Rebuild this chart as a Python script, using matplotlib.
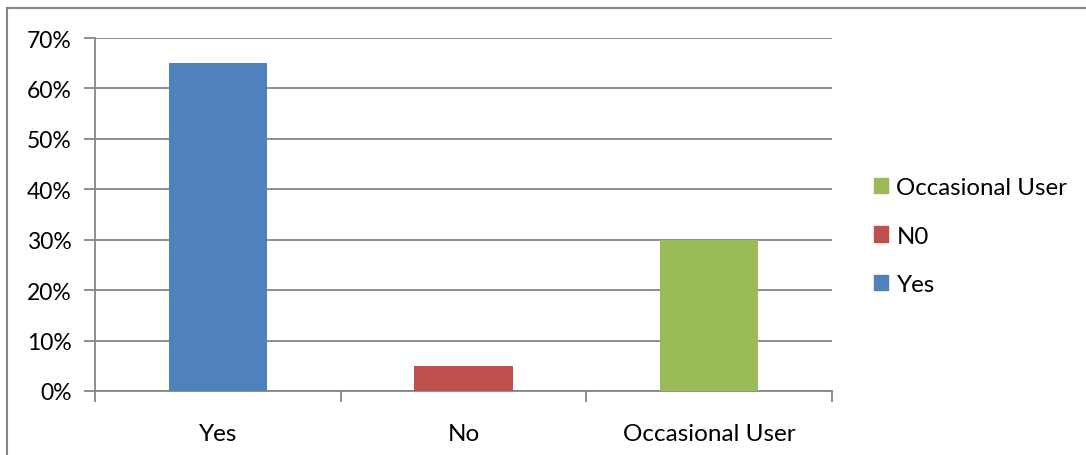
import matplotlib.pyplot as plt
from matplotlib.patches import Rectangle, Patch

categories = ["Yes", "No", "Occasional User"]
values = [0.65, 0.05, 0.30]
colors = ["#4f81bd", "#c0504d", "#9bbb59"]
legend_labels = ["Occasional User", "N0", "Yes"]
legend_colors = ["#9bbb59", "#c0504d", "#4f81bd"]
yticks = [0, 0.1, 0.2, 0.3, 0.4, 0.5, 0.6, 0.7]

plt.rcParams['font.family'] = ['Lato', 'DejaVu Sans']
grey = "#868686"

fig = plt.figure(figsize=(10.86, 4.56), dpi=100)
# outer chart border
fig.patches.append(Rectangle((7 / 1086, -0.01), 1.0, 1 - 9 / 456 + 0.01,
                             transform=fig.transFigure, fill=False,
                             edgecolor=grey, linewidth=1.5))

ax = fig.add_axes([95 / 1086, 1 - 392 / 456, (832 - 95) / 1086, (392 - 39) / 456])
x = range(len(categories))
ax.bar(x, values, width=0.4, color=colors, zorder=3)

ax.set_xlim(-0.5, 2.5)
ax.set_ylim(0, 0.7)
ax.set_yticks(yticks)
ax.set_yticklabels([f"{int(round(t * 100))}%" for t in yticks])
ax.yaxis.grid(True, color=grey, linewidth=1.3, zorder=0)

# category boundary ticks on x axis
ax.set_xticks([-0.5, 0.5, 1.5, 2.5])
ax.set_xticklabels([])
ax.set_xticks(list(x), minor=True)
ax.set_xticklabels(categories, minor=True)
ax.tick_params(axis='x', which='minor', length=0, pad=23, labelsize=17.5)
ax.tick_params(axis='x', which='major', length=8, width=1.3, color=grey)
ax.tick_params(axis='y', length=8, width=1.3, color=grey, labelsize=16.5, pad=9)

for s in ['top', 'right']:
    ax.spines[s].set_visible(False)
for s in ['left', 'bottom']:
    ax.spines[s].set_color(grey)
    ax.spines[s].set_linewidth(1.3)

handles = [Patch(color=c, label=l) for l, c in zip(legend_labels, legend_colors)]
fig.legend(handles=handles, loc='center left', bbox_to_anchor=(852 / 1086, 1 - 237 / 456),
           frameon=False, fontsize=17.3, handlelength=0.6, handleheight=0.6,
           handletextpad=0.35, labelspacing=1.15)

fig.savefig("out.png", dpi=100)
